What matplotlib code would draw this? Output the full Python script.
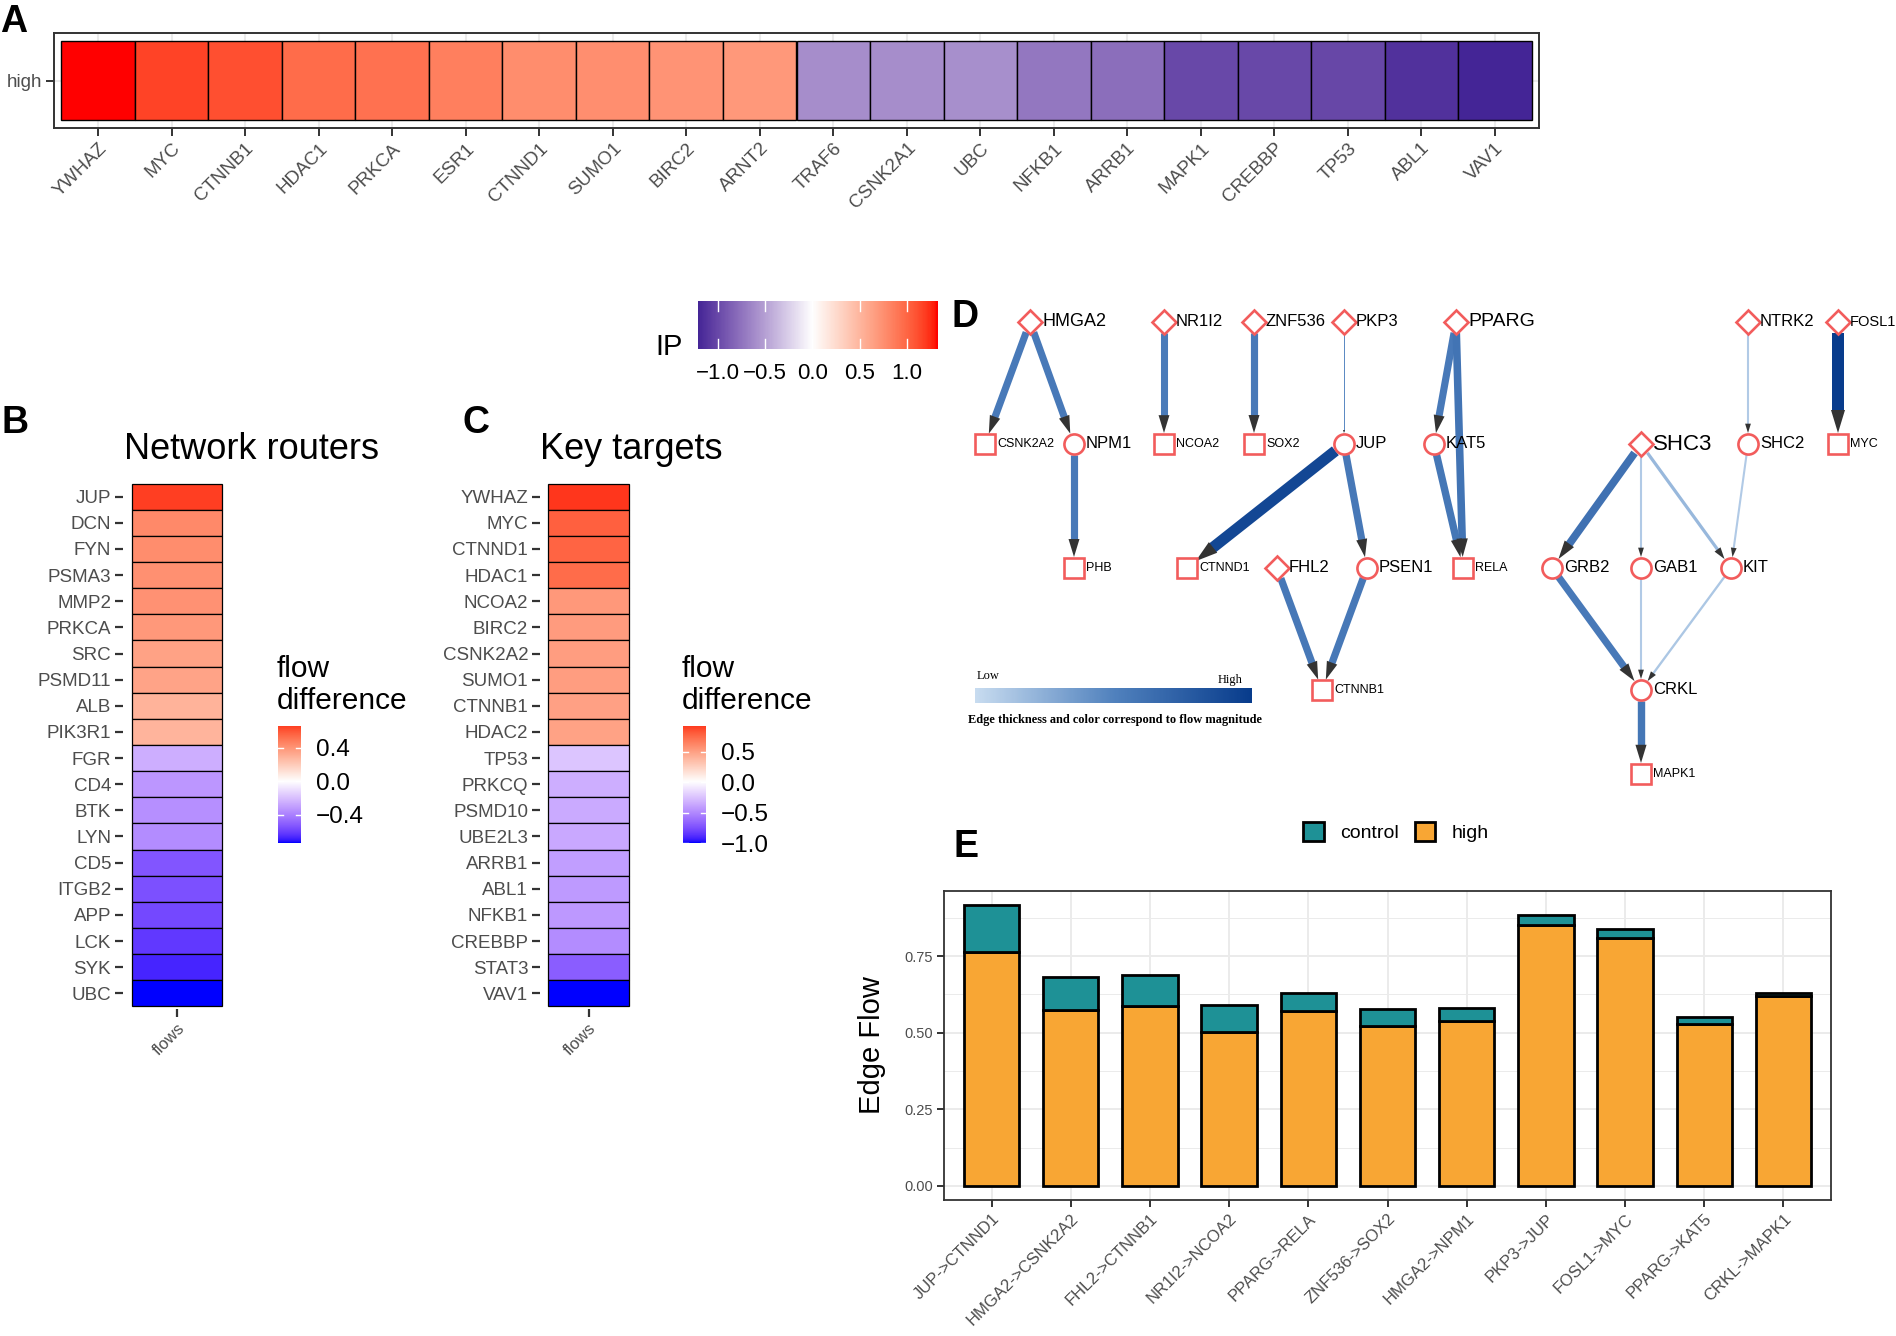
import numpy as np
import matplotlib
matplotlib.use("Agg")
import matplotlib.pyplot as plt
from matplotlib.colors import ListedColormap, Normalize, LinearSegmentedColormap, to_rgb
from matplotlib.patches import Polygon, Patch

plt.rcParams['font.family'] = ['Liberation Sans', 'DejaVu Sans']

W, H = 1896, 1336
GREY30 = '#4D4D4D'
GREY20 = '#333333'

# ---------------- data ----------------
# A: IP values, "high" group
ip_genes = ["YWHAZ", "MYC", "CTNNB1", "HDAC1", "PRKCA", "ESR1", "CTNND1", "SUMO1", "BIRC2", "ARNT2",
            "TRAF6", "CSNK2A1", "UBC", "NFKB1", "ARRB1", "MAPK1", "CREBBP", "TP53", "ABL1", "VAV1"]
ip_values = [1.33, 1.17, 1.12, 0.97, 0.94, 0.86, 0.77, 0.76, 0.73, 0.70,
             -0.61, -0.61, -0.60, -0.73, -0.78, -1.00, -1.00, -1.01, -1.14, -1.21]
ip_ticks = [-1.0, -0.5, 0.0, 0.5, 1.0]

# B: network routers
router_genes = ["JUP", "DCN", "FYN", "PSMA3", "MMP2", "PRKCA", "SRC", "PSMD11", "ALB", "PIK3R1",
                "FGR", "CD4", "BTK", "LYN", "CD5", "ITGB2", "APP", "LCK", "SYK", "UBC"]
router_flow = [0.66, 0.44, 0.43, 0.42, 0.415, 0.39, 0.355, 0.35, 0.29, 0.285,
               -0.26, -0.33, -0.355, -0.37, -0.54, -0.555, -0.58, -0.63, -0.68, -0.74]
router_ticks = [-0.4, 0.0, 0.4]

# C: key targets
target_genes = ["YWHAZ", "MYC", "CTNND1", "HDAC1", "NCOA2", "BIRC2", "CSNK2A2", "SUMO1", "CTNNB1", "HDAC2",
                "TP53", "PRKCQ", "PSMD10", "UBE2L3", "ARRB1", "ABL1", "NFKB1", "CREBBP", "STAT3", "VAV1"]
target_flow = [0.92, 0.78, 0.76, 0.73, 0.53, 0.51, 0.50, 0.50, 0.49, 0.48,
               -0.25, -0.35, -0.36, -0.37, -0.42, -0.43, -0.44, -0.50, -0.70, -1.00]
target_ticks = [-1.0, -0.5, 0.0, 0.5]

# D: network (layout coordinates in panel pixels)
node_names = ["HMGA2", "NR1I2", "ZNF536", "PKP3", "PPARG", "NTRK2", "FOSL1",
              "CSNK2A2", "NPM1", "NCOA2", "SOX2", "JUP", "KAT5", "SHC3", "SHC2", "MYC",
              "PHB", "CTNND1", "FHL2", "PSEN1", "RELA", "GRB2", "GAB1", "KIT",
              "CTNNB1", "CRKL", "MAPK1"]
node_x = [70, 204, 294, 384, 496, 788, 878,
          25, 114, 204, 294, 384, 474, 681, 788, 878,
          114, 227, 317, 407, 503, 592, 681, 771,
          362, 681, 681]
node_y = [22, 22, 22, 22, 22, 22, 22,
          144, 144, 144, 144, 144, 144, 144, 144, 144,
          268, 268, 268, 268, 268, 268, 268, 268,
          390, 390, 474]
node_kind = ["D", "D", "D", "D", "D", "D", "D",
             "s", "o", "s", "s", "o", "o", "D", "o", "s",
             "s", "s", "D", "o", "s", "o", "o", "o",
             "s", "o", "s"]
label_size_override = {"HMGA2": 13, "PPARG": 14, "SHC3": 16, "FOSL1": 10.5}

edge_src = ["HMGA2", "HMGA2", "NPM1", "NR1I2", "ZNF536", "PKP3", "JUP", "JUP", "PPARG", "PPARG",
            "KAT5", "FHL2", "PSEN1", "SHC3", "SHC3", "SHC3", "NTRK2", "SHC2", "GRB2", "GAB1",
            "KIT", "CRKL", "FOSL1"]
edge_dst = ["CSNK2A2", "NPM1", "PHB", "NCOA2", "SOX2", "JUP", "CTNND1", "PSEN1", "KAT5", "RELA",
            "RELA", "CTNNB1", "CTNNB1", "GRB2", "GAB1", "KIT", "SHC2", "KIT", "CRKL", "CRKL",
            "CRKL", "MAPK1", "MYC"]
# colour scale value and thickness value per edge (0..1)
edge_flow = [0.56, 0.56, 0.56, 0.55, 0.56, 0.45, 0.92, 0.57, 0.56, 0.60,
             0.58, 0.57, 0.57, 0.62, 0.10, 0.20, 0.10, 0.10, 0.56, 0.10,
             0.12, 0.58, 1.0]
edge_size = [0.56, 0.56, 0.56, 0.55, 0.56, 0.0, 0.92, 0.57, 0.56, 0.60,
             0.58, 0.57, 0.57, 0.62, 0.10, 0.20, 0.10, 0.10, 0.56, 0.10,
             0.12, 0.58, 1.0]

# E: edge flows
edge_labels = ["JUP->CTNND1", "HMGA2->CSNK2A2", "FHL2->CTNNB1", "NR1I2->NCOA2", "PPARG->RELA",
               "ZNF536->SOX2", "HMGA2->NPM1", "PKP3->JUP", "FOSL1->MYC", "PPARG->KAT5", "CRKL->MAPK1"]
flow_high = [0.764, 0.573, 0.589, 0.501, 0.570, 0.521, 0.539, 0.852, 0.811, 0.530, 0.621]
flow_control = [0.153, 0.108, 0.099, 0.089, 0.059, 0.056, 0.042, 0.032, 0.029, 0.023, 0.010]
flow_ticks = [0.0, 0.25, 0.50, 0.75]


# ---------------- helpers ----------------
_M = np.array([[0.4124564, 0.3575761, 0.1804375],
               [0.2126729, 0.7151522, 0.0721750],
               [0.0193339, 0.1191920, 0.9503041]])
_WHITE = np.array([0.95047, 1.0, 1.08883])


def to_lab(col):
    rgb = np.array(to_rgb(col))
    lin = np.where(rgb <= 0.04045, rgb / 12.92, ((rgb + 0.055) / 1.055) ** 2.4)
    xyz = _M @ lin / _WHITE
    f = np.where(xyz > (6 / 29) ** 3, np.cbrt(xyz), xyz / (3 * (6 / 29) ** 2) + 4 / 29)
    return np.array([116 * f[1] - 16, 500 * (f[0] - f[1]), 200 * (f[1] - f[2])])


def from_lab(lab):
    fy = (lab[:, 0] + 16) / 116
    fx = fy + lab[:, 1] / 500
    fz = fy - lab[:, 2] / 200
    f = np.stack([fx, fy, fz], 1)
    xyz = np.where(f > 6 / 29, f ** 3, 3 * (6 / 29) ** 2 * (f - 4 / 29)) * _WHITE
    lin = np.clip(xyz @ np.linalg.inv(_M).T, 0, 1)
    rgb = np.where(lin <= 0.0031308, 12.92 * lin, 1.055 * lin ** (1 / 2.4) - 0.055)
    return np.clip(rgb, 0, 1)


def gradient2(low, high, mid="white", n=256):
    # like ggplot scale_fill_gradient2 (Lab interpolation)
    t = np.linspace(0, 1, n)[:, None]
    lo, mi, hi = to_lab(low), to_lab(mid), to_lab(high)
    lab = np.where(t < 0.5, lo + (mi - lo) * (t / 0.5), mi + (hi - mi) * ((t - 0.5) / 0.5))
    return ListedColormap(from_lab(lab))


def minus(v, fmt="{:.1f}"):
    return fmt.format(v).replace("-", "\u2212")


fig = plt.figure(figsize=(W / 100, H / 100), dpi=100)


def px_axes(left, top, right, bottom):
    return fig.add_axes([left / W, 1 - bottom / H, (right - left) / W, (bottom - top) / H])


def ftext(x, y, s, **kw):
    return fig.text(x / W, 1 - y / H, s, **kw)


def colorbar(box, cmap, norm, vmin, vmax, ticks, vertical=True, size=17.5, pad=11):
    ax = px_axes(*box)
    grad = np.linspace(vmin, vmax, 300)
    if vertical:
        ax.imshow(grad[:, None], aspect='auto', origin='lower', cmap=cmap, norm=norm,
                  extent=[0, 1, vmin, vmax])
        for t in ticks:
            ax.plot([0, 0.2], [t, t], color='white', lw=1)
            ax.plot([0.8, 1], [t, t], color='white', lw=1)
        ax.set_xlim(0, 1)
        ax.set_ylim(vmin, vmax)
        ax.yaxis.tick_right()
        ax.set_yticks(ticks)
        ax.set_yticklabels([minus(t) for t in ticks])
        ax.set_xticks([])
    else:
        ax.imshow(grad[None, :], aspect='auto', cmap=cmap, norm=norm, extent=[vmin, vmax, 0, 1])
        for t in ticks:
            ax.plot([t, t], [0, 0.2], color='white', lw=1)
            ax.plot([t, t], [0.8, 1], color='white', lw=1)
        ax.set_xlim(vmin, vmax)
        ax.set_ylim(0, 1)
        ax.set_xticks(ticks)
        ax.set_xticklabels([minus(t) for t in ticks])
        ax.set_yticks([])
    ax.tick_params(length=0, pad=pad, labelsize=size, colors='black')
    for s in ax.spines.values():
        s.set_visible(False)
    return ax


# ---------------- A ----------------
ip_max = max(abs(v) for v in ip_values)
ip_cmap = gradient2("#2B0F8C", "red")
ip_norm = Normalize(-ip_max, ip_max)

axA = px_axes(54, 33, 1539, 128)
xa = np.arange(1, len(ip_genes) + 1)
axA.bar(xa, 1, bottom=0.5, width=1, color=ip_cmap(ip_norm(ip_values)),
        edgecolor='black', linewidth=1.0, zorder=2)
axA.set_xlim(0.4, len(ip_genes) + 0.6)
axA.set_ylim(0.4, 1.6)
axA.set_xticks(xa)
axA.set_xticklabels(ip_genes, rotation=45, ha='right', va='top', rotation_mode='anchor',
                    fontsize=13.5, color=GREY30)
axA.set_yticks([1])
axA.set_yticklabels(['high'], fontsize=13.5, color=GREY30)
axA.grid(True, color='#EBEBEB', lw=1.5)
axA.set_axisbelow(True)
for s in axA.spines.values():
    s.set_color(GREY20)
    s.set_linewidth(1.4)
axA.tick_params(length=5.5, width=1.4, color=GREY20, pad=3)

ftext(0, 32, "A", fontsize=27, fontweight='bold', va='baseline')

# IP colour bar
colorbar((698, 301, 938, 349), ip_cmap, ip_norm, min(ip_values), max(ip_values), ip_ticks,
         vertical=False, size=16, pad=10)
ftext(655, 355, "IP", fontsize=21, va='baseline')


# ---------------- B / C ----------------
def flow_heatmap(box, genes, values, ticks, cbar_x, title, title_x, letter_x, letter):
    m = max(abs(v) for v in values)
    cmap = gradient2("blue", "red")
    norm = Normalize(-m, m)
    ax = px_axes(*box)
    yy = np.arange(1, len(genes) + 1)
    ax.barh(yy, 1, left=0.5, height=1, color=cmap(norm(values)), edgecolor='black', linewidth=0.9)
    ax.set_ylim(len(genes) + 0.6, 0.4)
    ax.set_xlim(0.4, 1.6)
    ax.set_yticks(yy)
    ax.set_yticklabels(genes, fontsize=13.5, color=GREY30)
    ax.set_xticks([1])
    ax.set_xticklabels(['flows'], rotation=45, ha='right', va='top', rotation_mode='anchor',
                       fontsize=12, color=GREY30)
    ax.tick_params(length=5.5, width=1.6, color=GREY20, pad=3)
    for s in ax.spines.values():
        s.set_visible(False)
    ftext(title_x, 459, title, fontsize=26, ha='center', va='baseline')
    ftext(letter_x, 433, letter, fontsize=27, fontweight='bold', va='baseline')
    colorbar((cbar_x, 726, cbar_x + 23, 843), cmap, norm, min(values), max(values), ticks)
    ftext(cbar_x - 1, 677, "flow", fontsize=21.5, va='baseline')
    ftext(cbar_x - 1, 709, "difference", fontsize=21.5, va='baseline')


flow_heatmap((123, 481, 231, 1009), router_genes, router_flow, router_ticks, 278,
             "Network routers", 251, 2, "B")
flow_heatmap((540, 481, 637, 1009), target_genes, target_flow, target_ticks, 683,
             "Key targets", 631, 462, "C")

# ---------------- D ----------------
axD = px_axes(960, 300, 1896, 790)
axD.set_xlim(0, 936)
axD.set_ylim(490, 0)
axD.axis('off')

edge_cmap = LinearSegmentedColormap.from_list("edges", ["#C8DCF0", "#5182BE", "#083C8C"])
pos = {n: np.array([x, y], float) for n, x, y in zip(node_names, node_x, node_y)}
r_node = 11
for s, d, fl, sz in zip(edge_src, edge_dst, edge_flow, edge_size):
    p0, p1 = pos[s], pos[d]
    u = (p1 - p0) / np.linalg.norm(p1 - p0)
    nrm = np.array([-u[1], u[0]])
    start = p0 + u * r_node
    tip = p1 - u * r_node
    hl = 3 + 20 * np.sqrt(sz)
    hw = 2 + 12 * np.sqrt(sz)
    base = tip - u * hl
    lw_px = 1.0 + 11 * sz
    axD.plot([start[0], base[0] + u[0]], [start[1], base[1] + u[1]], color=edge_cmap(fl),
             lw=lw_px * 0.72, solid_capstyle='butt', zorder=2)
    axD.add_patch(Polygon([tip, base + nrm * hw / 2, base - nrm * hw / 2], closed=True,
                          facecolor=GREY20, edgecolor='none', zorder=3))

marker_size = {"D": 12, "o": 14.5, "s": 14.5}
for n, x, y, k in zip(node_names, node_x, node_y, node_kind):
    axD.plot(x, y, marker=k, ms=marker_size[k], mfc='white', mec='#F25C5C', mew=1.9, zorder=4)
    fs = label_size_override.get(n, 9 if k == "s" else 12)
    axD.text(x + 12, y, n, fontsize=fs, ha='left', va='center', zorder=5, clip_on=False)

ftext(952, 327, "D", fontsize=27, fontweight='bold', va='baseline')

axDl = px_axes(975, 688, 1252, 703)
axDl.imshow(np.linspace(0, 1, 300)[None, :], aspect='auto', cmap=edge_cmap)
axDl.axis('off')
ftext(977, 679, "Low", fontsize=9, family='Liberation Serif', va='baseline')
ftext(1243, 683, "High", fontsize=9, family='Liberation Serif', ha='right', va='baseline')
ftext(1115, 720, "Edge thickness and color correspond to flow magnitude", fontsize=8.9,
      family='Liberation Serif', fontweight='bold', ha='center', va='center')

# ---------------- E ----------------
TEAL = "#1E9196"
ORANGE = "#F8A634"
axE = px_axes(944, 891, 1831, 1200)
xe = np.arange(1, len(edge_labels) + 1)
axE.bar(xe, flow_high, width=0.7, color=ORANGE, edgecolor='black', linewidth=2, zorder=3)
axE.bar(xe, flow_control, bottom=flow_high, width=0.7, color=TEAL, edgecolor='black',
        linewidth=2, zorder=3)
tot = max(h + c for h, c in zip(flow_high, flow_control))
axE.set_ylim(-0.05 * tot, 1.05 * tot)
axE.set_xlim(0.4, len(edge_labels) + 0.6)
axE.set_yticks(flow_ticks)
axE.set_yticklabels(["{:.2f}".format(t) for t in flow_ticks], fontsize=10.5, color=GREY30)
axE.set_yticks([0.125, 0.375, 0.625, 0.875], minor=True)
axE.set_xticks(xe)
axE.set_xticklabels(edge_labels, rotation=45, ha='right', va='top', rotation_mode='anchor',
                    fontsize=12, color=GREY30)
axE.grid(True, which='major', color='#EBEBEB', lw=1.4)
axE.grid(True, which='minor', axis='y', color='#EBEBEB', lw=0.7)
axE.set_axisbelow(True)
axE.tick_params(which='major', length=5, width=1.4, color=GREY20, pad=3)
axE.tick_params(which='minor', length=0)
for s in axE.spines.values():
    s.set_color(GREY20)
    s.set_linewidth(1.3)
ftext(872, 1045, "Edge Flow", fontsize=21, rotation=90, ha='center', va='center')
ftext(953, 857, "E", fontsize=27, fontweight='bold', va='baseline')

handles = [Patch(facecolor=TEAL, edgecolor='black', linewidth=2, label='control'),
           Patch(facecolor=ORANGE, edgecolor='black', linewidth=2, label='high')]
fig.legend(handles=handles, loc='center', bbox_to_anchor=(1396 / W, 1 - 832 / H), ncol=2,
           frameon=False, fontsize=14, handlelength=1.05, handleheight=1.1,
           handletextpad=0.85, columnspacing=0.8)

fig.savefig("out.png", dpi=100)
